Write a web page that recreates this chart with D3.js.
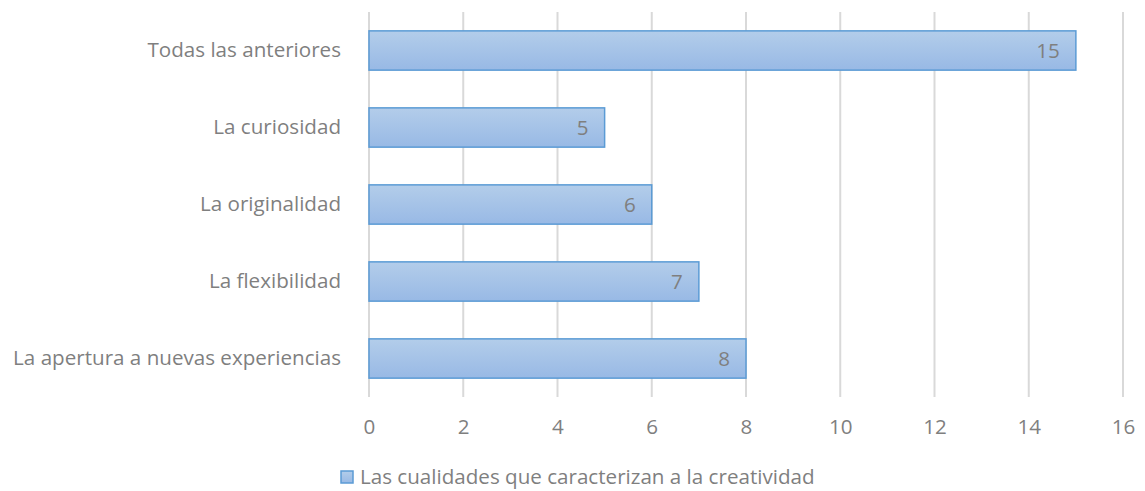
<!DOCTYPE html>
<meta charset="utf-8">
<title>Cualidades de la creatividad</title>
<style>
    body {
        margin: 0;
        background: #fff;
    }
    text {
        font-family: "Open Sans", sans-serif;
        fill: #7f7f7f;
    }
</style>
<body>
    <div id="chart"></div>
    <script src="https://cdn.jsdelivr.net/npm/d3@7"></script>
    <script>
        // data (top to bottom)
        var categories = ["Todas las anteriores", "La curiosidad", "La originalidad", "La flexibilidad", "La apertura a nuevas experiencias"];
        var values = [15, 5, 6, 7, 8];
        var xTicks = [0, 2, 4, 6, 8, 10, 12, 14, 16];
        var seriesName = "Las cualidades que caracterizan a la creatividad";

        var fontSize = "20.6px";

        var margin = {top: 12, right: 22, bottom: 94, left: 369},
            width = 1145 - margin.left - margin.right,
            height = 491 - margin.top - margin.bottom;

        var svg = d3.select("#chart")
            .append("svg")
            .attr("width", 1145)
            .attr("height", 491);

        var defs = svg.append("defs");
        var grad = defs.append("linearGradient")
            .attr("id", "barGrad")
            .attr("x1", 0).attr("y1", 0).attr("x2", 0).attr("y2", 1);
        grad.append("stop").attr("offset", "0%").attr("stop-color", "#b3cdea");
        grad.append("stop").attr("offset", "100%").attr("stop-color", "#98b9e5");

        var g = svg.append("g")
            .attr("transform", "translate(" + margin.left + "," + margin.top + ")");

        var x = d3.scaleLinear()
            .domain([0, 16])
            .range([0, width]);

        var y = d3.scaleBand()
            .domain(categories)
            .range([0, height])
            .paddingInner(0.49)
            .paddingOuter(0.245);

        // vertical grid lines
        g.selectAll(".grid")
            .data(xTicks)
            .enter()
            .append("line")
            .attr("x1", function(d) { return x(d); })
            .attr("x2", function(d) { return x(d); })
            .attr("y1", 0)
            .attr("y2", height)
            .attr("stroke", "#d9d9d9")
            .attr("stroke-width", 2);

        // x axis labels
        var xAxis = g.append("g")
            .attr("transform", "translate(0," + height + ")")
            .call(d3.axisBottom(x).tickValues(xTicks).tickSize(0).tickPadding(22));
        xAxis.select(".domain").remove();
        xAxis.selectAll("text")
            .style("font-size", fontSize)
            .style("font-family", "'Open Sans', sans-serif")
            .attr("fill", "#7f7f7f");

        // y axis labels
        var yAxis = g.append("g")
            .call(d3.axisLeft(y).tickSize(0).tickPadding(28));
        yAxis.select(".domain").remove();
        yAxis.selectAll("text")
            .style("font-size", fontSize)
            .style("font-family", "'Open Sans', sans-serif")
            .attr("fill", "#7f7f7f");

        // bars
        g.selectAll(".bar")
            .data(values)
            .enter()
            .append("rect")
            .attr("class", "bar")
            .attr("x", x(0))
            .attr("y", function(d, i) { return y(categories[i]); })
            .attr("width", function(d) { return x(d) - x(0); })
            .attr("height", y.bandwidth())
            .attr("fill", "url(#barGrad)")
            .attr("stroke", "#5b9bd5")
            .attr("stroke-width", 1.5);

        // value labels
        g.selectAll(".val")
            .data(values)
            .enter()
            .append("text")
            .attr("class", "val")
            .attr("x", function(d) { return x(d) - 16; })
            .attr("y", function(d, i) { return y(categories[i]) + y.bandwidth() / 2; })
            .attr("dy", "0.35em")
            .attr("text-anchor", "end")
            .style("font-size", fontSize)
            .text(function(d) { return d; });

        // legend
        var legend = svg.append("g")
            .attr("transform", "translate(341,471)");
        legend.append("rect")
            .attr("width", 12)
            .attr("height", 12)
            .attr("fill", "url(#barGrad)")
            .attr("stroke", "#5b9bd5")
            .attr("stroke-width", 1.5);
        legend.append("text")
            .attr("x", 19)
            .attr("y", 6)
            .attr("dy", "0.35em")
            .style("font-size", fontSize)
            .text(seriesName);
    </script>
</body>
